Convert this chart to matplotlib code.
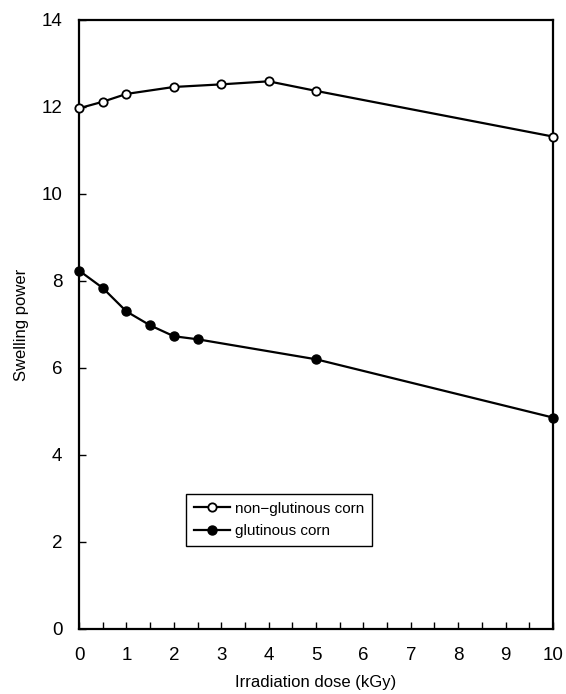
import matplotlib
matplotlib.use('Agg')
import matplotlib.pyplot as plt
from matplotlib.ticker import MultipleLocator

plt.rcParams['font.family'] = ['Liberation Sans', 'DejaVu Sans']

# dosis (kGy) y poder de hinchamiento
dose_non = [0, 0.5, 1, 2, 3, 4, 5, 10]
swell_non = [11.97, 12.12, 12.30, 12.46, 12.52, 12.59, 12.37, 11.32]

dose_glu = [0, 0.5, 1, 1.5, 2, 2.5, 5, 10]
swell_glu = [8.24, 7.84, 7.30, 6.98, 6.73, 6.66, 6.20, 4.86]

x_ticks = list(range(0, 11))
y_ticks = [0, 2, 4, 6, 8, 10, 12, 14]

fig = plt.figure(figsize=(5.66, 6.94), dpi=100)
ax = fig.add_axes([0.1396, 0.0937, 0.977 - 0.1396, 0.9712 - 0.0937])

ax.plot(dose_non, swell_non, '-o', color='black', lw=1.6, ms=6,
        mfc='white', mec='black', mew=1.3, label='non\u2212glutinous corn',
        clip_on=False, zorder=3)
ax.plot(dose_glu, swell_glu, '-o', color='black', lw=1.6, ms=6.5,
        mfc='black', mec='black', label='glutinous corn',
        clip_on=False, zorder=3)

ax.set_xlim(0, 10)
ax.set_ylim(0, 14)
ax.set_xticks(x_ticks)
ax.set_yticks(y_ticks)
ax.xaxis.set_minor_locator(MultipleLocator(0.5))

ax.tick_params(axis='both', which='both', direction='in', length=5,
               width=1, labelsize=13.5)
ax.tick_params(axis='x', pad=13)
ax.tick_params(axis='y', pad=12)
ax.tick_params(which='minor', length=5)

for s in ax.spines.values():
    s.set_linewidth(1.6)

ax.set_xlabel('Irradiation dose (kGy)', fontsize=12, labelpad=8)
ax.set_ylabel('Swelling power', fontsize=12, labelpad=9)

leg = ax.legend(loc='upper left', bbox_to_anchor=(0.226, 0.2217),
                borderaxespad=0, numpoints=1, handlelength=2.4,
                handletextpad=0.3, fontsize=11, fancybox=False,
                edgecolor='black', framealpha=1, borderpad=0.5,
                labelspacing=0.55)
leg.get_frame().set_linewidth(1.0)

fig.savefig('out.png', dpi=100)
